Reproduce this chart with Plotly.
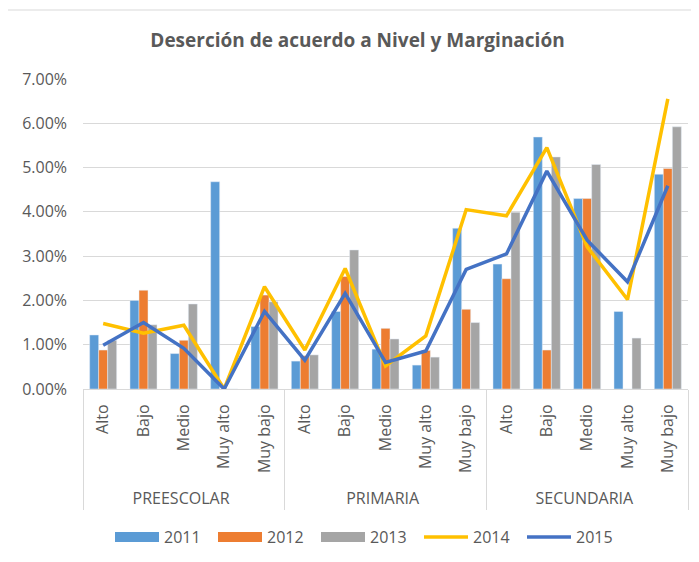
import plotly.graph_objects as go

niveles = ["PREESCOLAR"] * 5 + ["PRIMARIA"] * 5 + ["SECUNDARIA"] * 5
margin_cats = ["Alto", "Bajo", "Medio", "Muy alto", "Muy bajo"] * 3
years = ["2011", "2012", "2013", "2014", "2015"]

v2011 = [0.0122, 0.0200, 0.0080, 0.0468, 0.0141,
         0.0063, 0.0175, 0.0090, 0.0054, 0.0363,
         0.0282, 0.0569, 0.0430, 0.0175, 0.0485]
v2012 = [0.0088, 0.0223, 0.0110, 0.0, 0.0212,
         0.0075, 0.0254, 0.0137, 0.0087, 0.0180,
         0.0249, 0.0088, 0.0430, 0.0, 0.0498]
v2013 = [0.0110, 0.0145, 0.0192, 0.0, 0.0197,
         0.0077, 0.0314, 0.0113, 0.0072, 0.0150,
         0.0399, 0.0524, 0.0507, 0.0115, 0.0592]
v2014 = [0.0148, 0.0126, 0.0144, 0.0, 0.0231,
         0.0088, 0.0272, 0.0052, 0.0120, 0.0405,
         0.0391, 0.0545, 0.0321, 0.0202, 0.0655]
v2015 = [0.0099, 0.0150, 0.0092, 0.0, 0.0175,
         0.0065, 0.0216, 0.0060, 0.0086, 0.0270,
         0.0305, 0.0492, 0.0336, 0.0242, 0.0459]

colors = ["#5B9BD5", "#ED7D31", "#A5A5A5", "#FFC000", "#4472C4"]
# leading no-break spaces only add room below the rotated labels
inner = ["\u00a0\u00a0" + c for c in margin_cats]
x = [niveles, inner]
txt = "#595959"
font = "Open Sans"

W, H = 683, 546  # page body has an 8px margin
OFF = 8

fig = go.Figure()
# legend-only swatches for the bar series (wide rectangles like the original)
for name, col in zip(years[:3], colors[:3]):
    fig.add_trace(go.Scatter(x=[[niveles[0]], [inner[0]]], y=[None], name=name,
                             mode="lines", line=dict(color=col, width=10),
                             legendgroup=name, hoverinfo="skip"))
for name, col, vals in zip(years[:3], colors[:3], [v2011, v2012, v2013]):
    fig.add_trace(go.Bar(x=x, y=vals, name=name, marker_color=col,
                         legendgroup=name, showlegend=False))
for name, col, vals in zip(years[3:], colors[3:], [v2014, v2015]):
    fig.add_trace(go.Scatter(x=x, y=vals, name=name, mode="lines",
                             line=dict(color=col, width=3.5)))

l, t = 83 - OFF, 79 - OFF
r = W - (688 - OFF)
b = H - (389 - OFF)
plot_w = W - l - r
plot_h = H - t - b

fig.update_layout(
    width=W, height=H,
    margin=dict(l=l, r=r, t=t, b=b, autoexpand=False),
    paper_bgcolor="white", plot_bgcolor="white",
    barmode="group", bargap=0.33, bargroupgap=0,
    font=dict(family=font, color=txt, size=16),
    title=dict(text="<b>Deserción de acuerdo a Nivel y Marginación</b>",
               x=(357.5 - OFF) / W, xref="container", xanchor="center",
               y=1 - (40 - OFF) / H, yref="container", yanchor="middle",
               font=dict(size=19, color=txt, family=font)),
    legend=dict(orientation="h", x=(367.5 - OFF) / W, xanchor="center", xref="container",
                y=1 - (537 - OFF) / H, yref="container", yanchor="middle",
                font=dict(size=16, color=txt), traceorder="normal",
                itemwidth=44, entrywidth=44, entrywidthmode="pixels"),
    showlegend=True,
)
fig.update_yaxes(range=[0, 0.07], dtick=0.01, tickformat=".2%",
                 showgrid=True, gridcolor="#D9D9D9", gridwidth=1,
                 zeroline=False, showline=False, ticks="",
                 tickfont=dict(size=16, color=txt), ticklabelstandoff=15)
fig.update_xaxes(type="multicategory", tickangle=-90, showline=True,
                 linecolor="#D9D9D9", linewidth=1, showdividers=True,
                 dividercolor="#D9D9D9", dividerwidth=1,
                 tickfont=dict(size=16, color=txt), ticks="",
                 ticklabelstandoff=8)

# chart frame top edge
fig.add_shape(type="line", xref="paper", yref="paper",
              x0=-l / plot_w, x1=1 + r / plot_w,
              y0=(plot_h + t - (10 - OFF)) / plot_h, y1=(plot_h + t - (10 - OFF)) / plot_h,
              line=dict(color="#D9D9D9", width=1))

fig.write_html("out.html")
